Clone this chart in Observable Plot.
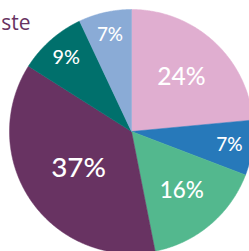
<!DOCTYPE html>
<html>
<head>
<meta charset="utf-8">
<script src="https://cdn.jsdelivr.net/npm/d3@7"></script>
<script src="https://cdn.jsdelivr.net/npm/@observablehq/plot@0.6"></script>
<style>
  html, body { margin: 0; padding: 0; background: #fff; }
  #chart { width: 249px; height: 251px; overflow: hidden; }
</style>
</head>
<body>
<div id="chart"></div>
<script>
const title = "Waste";
const categories = ["Slice A", "Slice B", "Slice C", "Slice D", "Slice E", "Slice F"];
const values = [23.5, 7.3, 16.1, 37.1, 9.0, 7.0];
const labels = ["24%", "7%", "16%", "37%", "9%", "7%"];
const colors = ["#e0aed0", "#2779ba", "#53b88e", "#683362", "#00706c", "#8aabd6"];

const total = d3.sum(values);
const toRad = (v) => (v / total) * 2 * Math.PI;

// Build slice outlines (unit-circle coordinates) from the data
const slicePts = [];
const labelPts = [];
let acc = 0;
values.forEach((v, i) => {
  const a0 = toRad(acc), a1 = toRad(acc + v);
  slicePts.push({category: categories[i], x: 0, y: 0});
  const steps = Math.max(2, Math.ceil((a1 - a0) / (Math.PI / 360)));
  for (let k = 0; k <= steps; k++) {
    const a = a0 + (a1 - a0) * k / steps;
    slicePts.push({category: categories[i], x: Math.sin(a), y: Math.cos(a)});
  }
  slicePts.push({category: categories[i], x: 0, y: 0});
  const am = (a0 + a1) / 2;
  const half = (a1 - a0) / 2;
  const share = v / total;
  // sector centroid for large slices, pushed outward for small ones
  const lr = share < 0.1 ? 0.81 : (2 * Math.sin(half)) / (3 * half);
  labelPts.push({
    category: categories[i],
    label: labels[i],
    x: lr * Math.sin(am),
    y: lr * Math.cos(am),
    size: 12 + 2.6 * Math.sqrt(v)
  });
  acc += v;
});

const chart = Plot.plot({
  width: 249,
  height: 251,
  margin: 0,
  style: {background: "#fff", fontFamily: "Lato, 'Open Sans', sans-serif"},
  x: {domain: [-1, 1], range: [9, 253], axis: null},
  y: {domain: [-1, 1], range: [253, 9], axis: null},
  color: {domain: categories, range: colors},
  marks: [
    Plot.line(slicePts, {x: "x", y: "y", z: "category", fill: "category", stroke: "category", strokeWidth: 0.5, curve: "linear"}),
    Plot.text(labelPts, {x: "x", y: "y", text: "label", fontSize: "size", fill: "#fff", fontWeight: 500}),
    Plot.text([title], {frameAnchor: "top-left", lineAnchor: "bottom", textAnchor: "end", dx: 30, dy: 29, fontSize: 21, fontFamily: "'Open Sans', sans-serif", fill: "#683362"})
  ]
});
document.getElementById("chart").appendChild(chart);
</script>
</body>
</html>
